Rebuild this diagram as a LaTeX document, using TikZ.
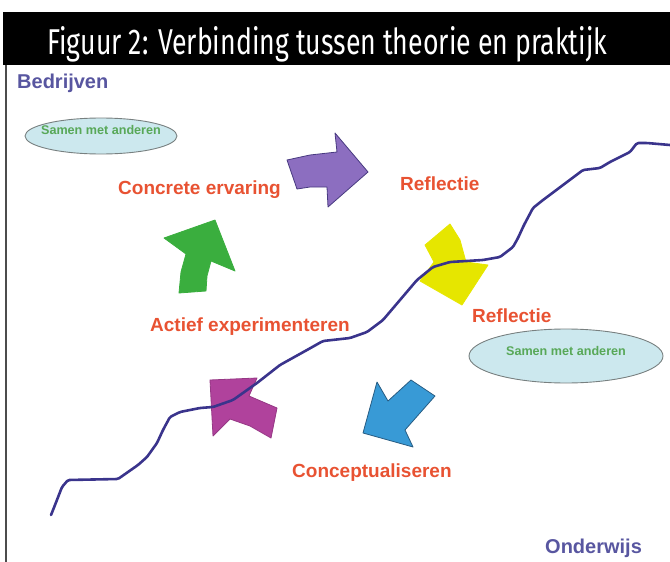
\documentclass[tikz,border=0pt]{standalone}
\usepackage{fontspec}
\setmainfont{Liberation Sans}
\newfontfamily\titelfont{Fira Sans}
\usetikzlibrary{shapes.geometric}

\definecolor{fasekleur}{RGB}{232,82,50}
\definecolor{partijkleur}{RGB}{88,86,160}
\definecolor{lijnkleur}{RGB}{58,52,140}
\definecolor{wolkvul}{RGB}{204,232,238}
\definecolor{wolkrand}{RGB}{120,128,128}
\definecolor{samenkleur}{RGB}{88,168,88}
\definecolor{pijlpaars}{RGB}{140,110,192}
\definecolor{paarsrand}{RGB}{72,58,128}
\definecolor{pijlgroen}{RGB}{58,174,62}
\definecolor{pijlgeel}{RGB}{230,230,0}
\definecolor{pijlmagenta}{RGB}{176,66,156}
\definecolor{pijlblauw}{RGB}{56,154,214}
\definecolor{blauwrand}{RGB}{40,92,130}

\tikzset{
	fase/.style={anchor=base west, inner sep=0pt, text=fasekleur, font=\bfseries\fontsize{19}{22}\selectfont},
	partij/.style={anchor=base west, inner sep=0pt, text=partijkleur, font=\bfseries\fontsize{20}{24}\selectfont},
	wolk/.style={ellipse, draw=wolkrand, fill=wolkvul, line width=0.9pt, inner sep=0pt},
	samen/.style={inner sep=0pt, text=samenkleur, font=\bfseries\fontsize{12.6}{14}\selectfont},
	pijl/.style={line width=0.8pt, line join=round}
}

\begin{document}
\begin{tikzpicture}[x=1pt, y=-1pt]

	\useasboundingbox (0,0) rectangle (670,562);

	% kop
	\fill[black] (3,12) rectangle (670,65);
	\node[anchor=base west, inner sep=0pt, text=white] (titel) at (47,55)
		{\resizebox{560pt}{28pt}{\titelfont Figuur 2: Verbinding tussen theorie en praktijk}};
	\draw[line width=1.2pt, black!70] (6,65) -- (6,562);

	\node[wolk, minimum width=152pt, minimum height=36pt] (wolklinks) at (101,136) {};
	\node[samen] (samenlinks) at ([yshift=6pt]wolklinks.center) {Samen met anderen};
	\node[wolk, minimum width=194pt, minimum height=54pt] (wolkrechts) at (566,356) {};
	\node[samen] (samenrechts) at ([yshift=5pt]wolkrechts.center) {Samen met anderen};

	% de vijf pijlen van de cyclus
	\draw[pijl, fill=pijlpaars, draw=paarsrand] (287,160) -- (310,155) -- (337,152) -- (335,133) -- (368,172)
		-- (328,207) -- (327,187) -- (310,187) -- (297,189) -- cycle;
	\draw[pijl, fill=pijlgroen, draw=pijlgroen] (215,220) -- (235,271) -- (211,261) -- (207,276) -- (206,291)
		-- (179,293) -- (181,272) -- (186,254) -- (164,238) -- cycle;
	\draw[pijl, fill=pijlgeel, draw=pijlgeel] (425,245) -- (450,224) -- (460,240) -- (466,262) -- (488,265)
		-- (462,305) -- (420,281) -- (434,262) -- cycle;
	\draw[pijl, fill=pijlmagenta, draw=pijlmagenta!85!black] (210,380) -- (257,378) -- (249,396) -- (277,408)
		-- (271,438) -- (250,426) -- (230,419) -- (213,436) -- cycle;
	\draw[pijl, fill=pijlblauw, draw=blauwrand] (363,433) -- (377,382) -- (388,401) -- (411,380) -- (435,396)
		-- (405,430) -- (413,447) -- cycle;

	% grens tussen bedrijven en onderwijs
	\draw[lijnkleur, line width=2.6pt, line join=round, line cap=round, rounded corners=1.5pt]
		(51,515) -- (55,505) -- (62,487) -- (68,480) -- (118,479) -- (138,465) -- (147,457) -- (157,443)
		-- (163,430) -- (170,417) -- (180,412) -- (200,408) -- (213,407) -- (233,400) -- (257,383)
		-- (280,365) -- (307,350) -- (323,341) -- (350,338) -- (367,332) -- (383,320) -- (400,300)
		-- (417,280) -- (433,267) -- (450,262) -- (483,260) -- (500,257) -- (513,247) -- (518,238)
		-- (524,225) -- (533,208) -- (543,200) -- (567,182) -- (583,170) -- (600,168) -- (610,162)
		-- (630,152) -- (637,143) -- (647,143) -- (670,145);

	\node[fase] (concreet) at (118,194) {Concrete ervaring};
	\node[fase] (reflectieboven) at (400,190) {Reflectie};
	\node[fase] (reflectieonder) at (472,322) {Reflectie};
	\node[fase] (actief) at (150,331) {Actief experimenteren};
	\node[fase] (concept) at (292,477) {Conceptualiseren};

	\node[partij] (bedrijven) at (17,88) {Bedrijven};
	\node[partij] (onderwijs) at (545,553) {Onderwijs};

\end{tikzpicture}
\end{document}
